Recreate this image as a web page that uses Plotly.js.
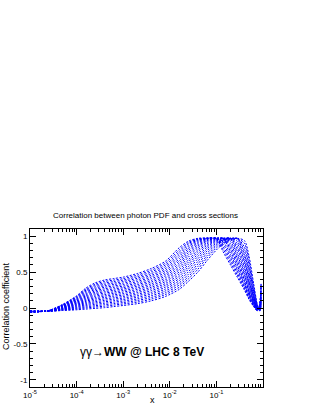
<!DOCTYPE html>
<html>
<head>
<meta charset="utf-8">
<script src="https://cdn.plot.ly/plotly-3.0.1.min.js"></script>
<style>html,body{margin:0;padding:0;background:#fff;}#chart{width:315px;height:407px;}</style>
</head>
<body>
<div id="chart"></div>
<script>
// x values shared by every curve
const xValues = [1e-5, 2.5e-5, 5e-5, 1e-4, 1.6e-4, 2.5e-4, 4e-4, 6.3e-4, 1e-3, 2e-3, 4e-3, 8e-3, 0.016, 0.025, 0.04, 0.063, 0.1, 0.14, 0.2, 0.28, 0.4, 0.5, 0.63, 0.76, 0.85, 0.91];

// correlation coefficient curves
const c00 = [-0.06, -0.035, 0.05, 0.17, 0.28, 0.35, 0.39, 0.41, 0.43, 0.48, 0.55, 0.65, 0.84, 0.93, 0.97, 0.975, 0.96, 0.78, 0.60, 0.43, 0.25, 0.12, 0.02, -0.04, 0.06, 0.35];
const c01 = [-0.06, -0.035, 0.045, 0.16, 0.264, 0.331, 0.37, 0.389, 0.409, 0.458, 0.526, 0.624, 0.809, 0.912, 0.963, 0.972, 0.97, 0.817, 0.634, 0.459, 0.269, 0.134, 0.025, -0.038, 0.05, 0.33];
const c02 = [-0.058, -0.035, 0.041, 0.15, 0.249, 0.313, 0.349, 0.369, 0.388, 0.436, 0.503, 0.598, 0.779, 0.894, 0.957, 0.97, 0.97, 0.853, 0.67, 0.49, 0.291, 0.151, 0.033, -0.036, 0.045, 0.31];
const c03 = [-0.057, -0.035, 0.037, 0.139, 0.233, 0.294, 0.329, 0.348, 0.368, 0.414, 0.479, 0.573, 0.748, 0.873, 0.946, 0.97, 0.97, 0.889, 0.708, 0.522, 0.313, 0.167, 0.039, -0.034, 0.04, 0.29];
const c04 = [-0.056, -0.035, 0.032, 0.129, 0.218, 0.275, 0.309, 0.328, 0.347, 0.392, 0.455, 0.547, 0.718, 0.85, 0.935, 0.97, 0.97, 0.923, 0.745, 0.554, 0.337, 0.185, 0.048, -0.032, 0.035, 0.27];
const c05 = [-0.055, -0.04, 0.028, 0.119, 0.202, 0.257, 0.289, 0.307, 0.326, 0.369, 0.432, 0.521, 0.687, 0.825, 0.92, 0.966, 0.97, 0.96, 0.784, 0.588, 0.364, 0.203, 0.056, -0.03, 0.03, 0.25];
const c06 = [-0.054, -0.04, 0.023, 0.108, 0.187, 0.238, 0.268, 0.287, 0.305, 0.347, 0.408, 0.495, 0.657, 0.798, 0.903, 0.96, 0.97, 0.97, 0.821, 0.62, 0.393, 0.223, 0.066, -0.028, 0.025, 0.23];
const c07 = [-0.053, -0.04, 0.019, 0.098, 0.171, 0.219, 0.248, 0.266, 0.284, 0.325, 0.384, 0.469, 0.626, 0.77, 0.883, 0.952, 0.97, 0.97, 0.857, 0.655, 0.422, 0.244, 0.076, -0.025, 0.02, 0.21];
const c08 = [-0.052, -0.04, 0.014, 0.088, 0.156, 0.2, 0.228, 0.246, 0.264, 0.303, 0.361, 0.444, 0.596, 0.74, 0.861, 0.94, 0.97, 0.97, 0.893, 0.693, 0.455, 0.266, 0.087, -0.022, 0.015, 0.19];
const c09 = [-0.051, -0.04, 0.01, 0.078, 0.14, 0.182, 0.208, 0.225, 0.243, 0.281, 0.337, 0.418, 0.565, 0.708, 0.838, 0.931, 0.97, 0.97, 0.925, 0.734, 0.491, 0.293, 0.099, -0.019, 0.01, 0.17];
const c10 = [-0.049, -0.04, 0.005, 0.067, 0.125, 0.163, 0.187, 0.205, 0.222, 0.259, 0.313, 0.392, 0.535, 0.67, 0.81, 0.913, 0.963, 0.97, 0.955, 0.776, 0.526, 0.317, 0.111, -0.016, 0.005, 0.155];
const c11 = [-0.048, -0.04, 0.001, 0.057, 0.109, 0.144, 0.167, 0.184, 0.201, 0.237, 0.289, 0.366, 0.504, 0.639, 0.783, 0.893, 0.956, 0.97, 0.97, 0.823, 0.567, 0.348, 0.127, -0.012, 0.0, 0.14];
const c12 = [-0.047, -0.04, -0.004, 0.047, 0.094, 0.126, 0.147, 0.164, 0.18, 0.215, 0.266, 0.34, 0.473, 0.607, 0.751, 0.872, 0.946, 0.97, 0.97, 0.859, 0.613, 0.381, 0.143, -0.008, -0.005, 0.125];
const c13 = [-0.046, -0.04, -0.008, 0.037, 0.078, 0.107, 0.127, 0.143, 0.16, 0.193, 0.242, 0.315, 0.443, 0.574, 0.719, 0.849, 0.935, 0.965, 0.97, 0.897, 0.654, 0.416, 0.16, -0.004, -0.01, 0.11];
const c14 = [-0.045, -0.04, -0.013, 0.026, 0.063, 0.088, 0.106, 0.123, 0.139, 0.171, 0.218, 0.289, 0.412, 0.541, 0.685, 0.823, 0.92, 0.959, 0.97, 0.93, 0.697, 0.457, 0.182, 0.0, -0.02, 0.095];
const c15 = [-0.044, -0.045, -0.017, 0.016, 0.047, 0.07, 0.086, 0.102, 0.118, 0.149, 0.195, 0.263, 0.382, 0.504, 0.649, 0.795, 0.902, 0.95, 0.97, 0.96, 0.741, 0.503, 0.205, 0.005, -0.025, 0.08];
const c16 = [-0.043, -0.045, -0.022, 0.006, 0.032, 0.051, 0.066, 0.082, 0.097, 0.126, 0.171, 0.237, 0.351, 0.469, 0.613, 0.764, 0.882, 0.942, 0.968, 0.97, 0.792, 0.552, 0.233, 0.015, -0.03, 0.065];
const c17 = [-0.042, -0.045, -0.026, -0.005, 0.016, 0.032, 0.046, 0.061, 0.076, 0.104, 0.147, 0.211, 0.321, 0.437, 0.577, 0.729, 0.862, 0.931, 0.961, 0.97, 0.847, 0.606, 0.264, 0.025, -0.035, 0.05];
const c18 = [-0.041, -0.045, -0.031, -0.015, 0.001, 0.014, 0.025, 0.041, 0.056, 0.082, 0.124, 0.186, 0.29, 0.405, 0.54, 0.698, 0.837, 0.912, 0.954, 0.97, 0.899, 0.668, 0.30, 0.035, -0.04, 0.035];
const c19 = [-0.04, -0.045, -0.035, -0.025, -0.015, -0.005, 0.005, 0.02, 0.035, 0.06, 0.1, 0.16, 0.26, 0.37, 0.50, 0.66, 0.808, 0.895, 0.945, 0.97, 0.938, 0.725, 0.34, 0.04, -0.045, 0.02];

const curves = [c00, c01, c02, c03, c04, c05, c06, c07, c08, c09, c10, c11, c12, c13, c14, c15, c16, c17, c18, c19];

// tick labels
const xTickVals = [1e-5, 1e-4, 1e-3, 1e-2, 1e-1];
const xTickText = ['10<sup>-5</sup>', '10<sup>-4</sup>', '10<sup>-3</sup>', '10<sup>-2</sup>', '10<sup>-1</sup>'];
const yTickVals = [-1, -0.5, 0, 0.5, 1];
const yTickText = ['-1', '-0.5', '0', '0.5', '1'];

const xMinor = [];
for (let e = -5; e <= -1; e++) {
  for (let m = 2; m <= 9; m++) xMinor.push(m * Math.pow(10, e));
}

const traces = curves.map(function (yv) {
  return {
    x: xValues, y: yv, type: 'scatter', mode: 'lines',
    line: {color: 'rgb(0,0,255)', width: 1, dash: '2px,1.5px', shape: 'spline', smoothing: 0.8},
    hoverinfo: 'skip', showlegend: false
  };
});

const font = 'Liberation Sans, Arial, Helvetica, sans-serif';
const layout = {
  width: 315, height: 407,
  margin: {l: 30, r: 52, t: 229, b: 20, pad: 0},
  paper_bgcolor: '#fff', plot_bgcolor: '#fff',
  font: {family: font, size: 8, color: '#000'},
  showlegend: false,
  title: {text: 'Correlation between photon PDF and cross sections', font: {family: font, size: 8, color: '#000'},
          x: 145.5 / 315, xanchor: 'center', xref: 'container', y: 1 - 215 / 407, yanchor: 'middle', yref: 'container'},
  xaxis: {
    type: 'log', range: [-5, 0], showgrid: false, zeroline: false,
    showline: true, linecolor: '#000', linewidth: 1, mirror: 'allticks',
    ticks: 'inside', ticklen: 6, tickcolor: '#000', tickwidth: 1,
    tickmode: 'array', tickvals: xTickVals, ticktext: xTickText,
    tickfont: {family: font, size: 8, color: '#000'},
    minor: {tickmode: 'array', tickvals: xMinor, ticks: 'inside', ticklen: 3, tickcolor: '#000', tickwidth: 1, showgrid: false}
  },
  yaxis: {
    range: [-1.1, 1.1], showgrid: false, zeroline: false,
    showline: true, linecolor: '#000', linewidth: 1, mirror: 'allticks',
    ticks: 'inside', ticklen: 6, tickcolor: '#000', tickwidth: 1,
    tickmode: 'array', tickvals: yTickVals, ticktext: yTickText,
    tickfont: {family: font, size: 8, color: '#000'},
    minor: {dtick: 0.1, ticks: 'inside', ticklen: 3, tickcolor: '#000', tickwidth: 1, showgrid: false}
  },
  annotations: [
    {text: 'γγ→<b>WW @ LHC 8 TeV</b>', xref: 'paper', yref: 'paper', x: (78 - 30) / 233, y: (387 - 352) / 158,
     xanchor: 'left', yanchor: 'middle', showarrow: false, font: {family: font, size: 12, color: '#000'}},
    {text: 'x', xref: 'paper', yref: 'paper', x: (152 - 30) / 233, y: (387 - 400) / 158,
     xanchor: 'center', yanchor: 'middle', showarrow: false, font: {family: font, size: 9, color: '#000'}},
    {text: 'Correlation coefficient', xref: 'paper', yref: 'paper', x: (6 - 30) / 233, y: (387 - 307) / 158,
     xanchor: 'center', yanchor: 'middle', textangle: -90, showarrow: false, font: {family: font, size: 9, color: '#000'}}
  ]
};

Plotly.newPlot('chart', traces, layout, {displayModeBar: false, staticPlot: true});
</script>
</body>
</html>
